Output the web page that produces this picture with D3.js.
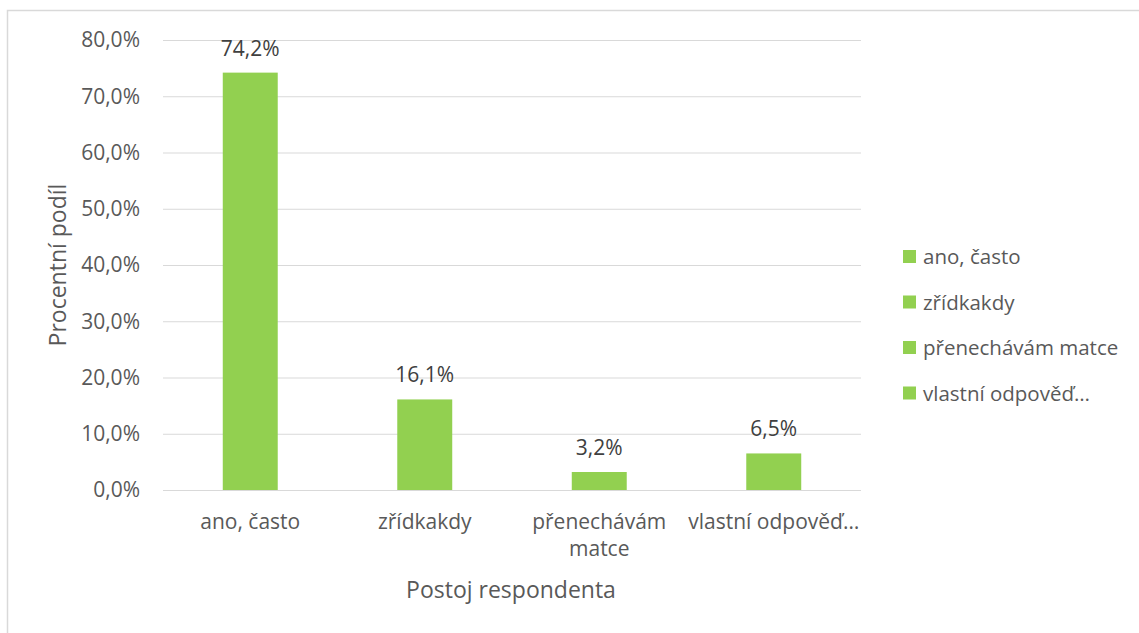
<!DOCTYPE html>
<html>
<head>
<meta charset="utf-8">
<script src="https://cdn.jsdelivr.net/npm/d3@7"></script>
<style>
  body { margin: 0; background: #fff; }
  text { font-family: "Open Sans", sans-serif; fill: #595959; }
</style>
</head>
<body>
<div id="chart"></div>
<script>
// Data
const categories = ["ano, často", "zřídkakdy", "přenechávám matce", "vlastní odpověď…"];
const axisLabels = [["ano, často"], ["zřídkakdy"], ["přenechávám", "matce"], ["vlastní odpověď…"]];
const values = [74.2, 16.1, 3.2, 6.5];
const yTicks = [0, 10, 20, 30, 40, 50, 60, 70, 80];

const width = 1139, height = 633;
const plot = { left: 163, right: 861, top: 40, bottom: 490 };
const green = "#92D050";

const svg = d3.select("#chart")
    .append("svg")
    .attr("width", width)
    .attr("height", height);

// chart frame (runs off right / bottom edge)
svg.append("rect")
    .attr("x", 7.5).attr("y", 10.5)
    .attr("width", 1200).attr("height", 700)
    .attr("fill", "none")
    .attr("stroke", "#d9d9d9")
    .attr("stroke-width", 1.5);

const x = d3.scaleBand()
    .domain(categories)
    .range([plot.left, plot.right])
    .paddingInner(0.685)
    .paddingOuter(0.3425);

const y = d3.scaleLinear()
    .domain([0, 80])
    .range([plot.bottom, plot.top]);

const fmt = v => d3.format(".1f")(v).replace(".", ",") + "%";

// gridlines
svg.append("g")
    .selectAll("line")
    .data(yTicks)
    .join("line")
        .attr("x1", plot.left).attr("x2", plot.right)
        .attr("y1", d => y(d) + 0.5).attr("y2", d => y(d) + 0.5)
        .attr("stroke", "#d9d9d9")
        .attr("stroke-width", 1);

// y tick labels
svg.append("g")
    .selectAll("text")
    .data(yTicks)
    .join("text")
        .attr("x", 140)
        .attr("y", d => y(d))
        .attr("dy", "0.35em")
        .attr("text-anchor", "end")
        .style("font-size", "21px")
        .text(d => fmt(d));

// bars
svg.append("g")
    .selectAll("rect")
    .data(values)
    .join("rect")
        .attr("x", (d, i) => x(categories[i]))
        .attr("y", d => y(d))
        .attr("width", x.bandwidth())
        .attr("height", d => y(0) - y(d))
        .attr("fill", green);

// value labels
svg.append("g")
    .selectAll("text")
    .data(values)
    .join("text")
        .attr("x", (d, i) => x(categories[i]) + x.bandwidth() / 2)
        .attr("y", d => y(d) - 17)
        .attr("text-anchor", "middle")
        .style("font-size", "21px")
        .style("fill", "#404040")
        .text(d => fmt(d));

// x category labels
const xl = svg.append("g")
    .selectAll("text")
    .data(axisLabels)
    .join("text")
        .attr("x", (d, i) => x(categories[i]) + x.bandwidth() / 2)
        .attr("y", 529)
        .attr("text-anchor", "middle")
        .style("font-size", "21px");
xl.selectAll("tspan")
    .data(d => d)
    .join("tspan")
        .attr("x", function () { return d3.select(this.parentNode).attr("x"); })
        .attr("dy", (d, i) => i === 0 ? 0 : 27)
        .text(d => d);

// axis titles
svg.append("text")
    .attr("x", 511).attr("y", 598)
    .attr("text-anchor", "middle")
    .style("font-size", "23px")
    .text("Postoj respondenta");

svg.append("text")
    .attr("transform", "translate(66, 265) rotate(-90)")
    .attr("text-anchor", "middle")
    .style("font-size", "23px")
    .text("Procentní podíl");

// legend
const legend = svg.append("g")
    .selectAll("g")
    .data(categories)
    .join("g")
        .attr("transform", (d, i) => `translate(903, ${257 + i * 45.5})`);
legend.append("rect")
    .attr("x", 0).attr("y", -7)
    .attr("width", 13).attr("height", 13)
    .attr("fill", green);
legend.append("text")
    .attr("x", 20).attr("y", 0)
    .attr("dy", "0.35em")
    .style("font-size", "20.5px")
    .text(d => d);
</script>
</body>
</html>
